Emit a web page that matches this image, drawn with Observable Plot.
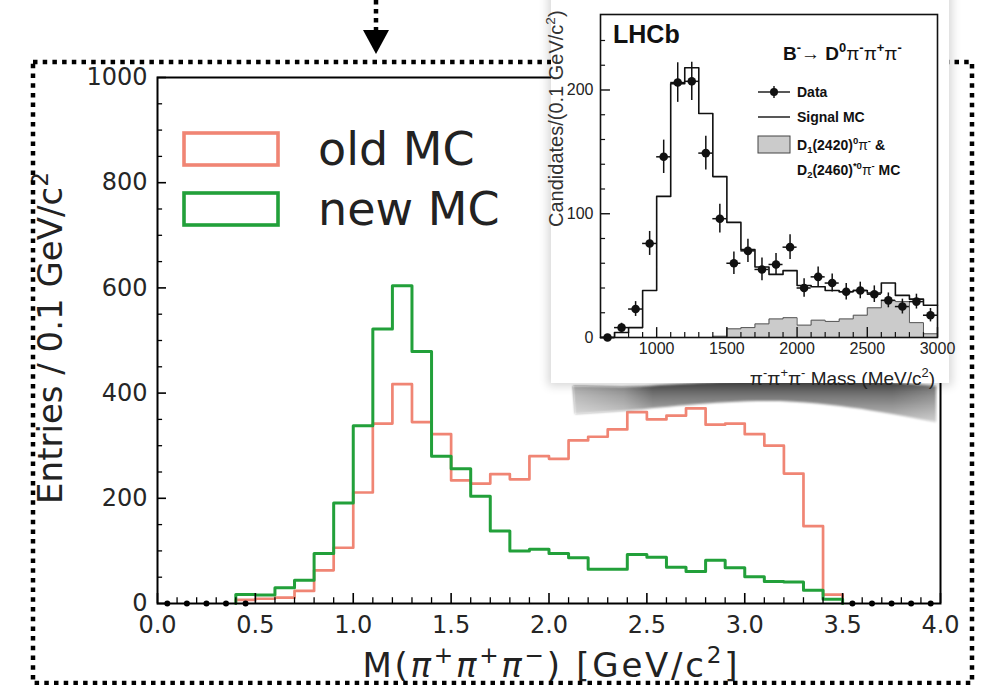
<!DOCTYPE html>
<html>
<head>
<meta charset="utf-8">
<script src="https://cdn.jsdelivr.net/npm/d3@7"></script>
<script src="https://cdn.jsdelivr.net/npm/@observablehq/plot@0.6"></script>
<style>
  html, body { margin: 0; padding: 0; background: #fff; }
  #stage { position: relative; width: 985px; height: 685px; overflow: hidden; background: #fff; }
  #stage > * { position: absolute; }
</style>
</head>
<body>
<div id="stage"></div>
<script>
// ---- Main histogram: M(pi+ pi+ pi-), 0.1 GeV bins from 0 to 4 GeV ----
const massBinLow = d3.range(40).map(i => i / 10);
const oldMC = [0, 0, 0, 0, 7, 9, 11, 24, 63, 106,
               211, 342, 417, 345, 322, 234, 228, 246, 236, 280,
               275, 310, 317, 331, 364, 350, 357, 371, 340, 342,
               322, 300, 247, 147, 17, 0, 0, 0, 0, 0];
const newMC = [0, 0, 0, 0, 17, 16, 30, 44, 95, 191,
               338, 522, 604, 479, 280, 256, 204, 138, 100, 103,
               95, 87, 65, 65, 93, 88, 69, 61, 82, 68,
               51, 42, 41, 25, 8, 0, 0, 0, 0, 0];
const emptyBinCenters = [0.05, 0.15, 0.25, 0.35, 0.45, 3.55, 3.65, 3.75, 3.85, 3.95];
const xTicksMain = [0, 0.5, 1, 1.5, 2, 2.5, 3, 3.5, 4];
const xMinorMain = d3.range(41).map(i => i / 10).filter(v => Math.round(v * 10) % 5 !== 0);
const yTicksMain = [0, 200, 400, 600, 800, 1000];
const yMinorMain = [50, 100, 150, 250, 300, 350, 450, 500, 550, 650, 700, 750, 850, 900, 950];
const legendLabels = ["old MC", "new MC"];

// ---- Inset: LHCb B- -> D0 pi- pi+ pi-, 100 MeV bins from 600 to 3000 MeV ----
const insetBinLow = d3.range(600, 3000, 100);
const signalMC = [0, 4, 8, 38, 114, 205, 218, 181, 130, 93, 71, 57,
                  51, 54, 42, 41, 38, 37, 38, 36, 44, 34, 31, 26];
const excitedDMC = [0, 0, 0, 0, 0, 0, 0, 0, 1, 7, 8, 11,
                    15, 16, 10, 14, 13, 15, 18, 24, 30, 29, 12, 3];
const dataMass = [650, 750, 850, 950, 1050, 1150, 1250, 1350, 1450, 1550, 1650, 1750,
                  1850, 1950, 2050, 2150, 2250, 2350, 2450, 2550, 2650, 2750, 2850, 2950];
const dataCounts = [0, 8, 23, 76, 146, 206, 207, 149, 96, 60, 70, 55,
                    59, 73, 40, 49, 44, 37, 38, 35, 30, 25, 29, 18];
const dataErrors = [0, 3.5, 6, 9.7, 13.5, 16, 15.5, 13.7, 11.6, 9, 9.4, 9.2,
                    8.8, 10, 7.4, 8, 7.3, 6.7, 6.7, 6.7, 6, 6, 6, 5.4];
const xTicksInset = [1000, 1500, 2000, 2500, 3000];
const xMinorInset = d3.range(700, 3000, 100).filter(v => v % 500 !== 0);
const yTicksInset = [0, 100, 200];
const yMinorInset = [20, 40, 60, 80, 120, 140, 160, 180, 220, 240];

const RED = "#f08574";
const GREEN = "#22a03a";
const stage = document.getElementById("stage");

// Outline of a step histogram (histtype "step"): rises from the baseline at the
// first filled bin and falls back to it after the last one.
function stepOutline(lows, values, width) {
  const filled = values.map((v, i) => (v > 0 ? i : -1)).filter(i => i >= 0);
  const a = filled[0], b = filled[filled.length - 1];
  const pts = [{x: lows[a], y: 0}];
  for (let i = a; i <= b; i++) pts.push({x: lows[i], y: values[i]});
  pts.push({x: lows[b] + width, y: values[b]});
  pts.push({x: lows[b] + width, y: 0});
  return pts;
}
function stepFull(lows, values, width) {
  const pts = lows.map((x, i) => ({x, y: values[i]}));
  pts.push({x: lows[lows.length - 1] + width, y: values[values.length - 1]});
  return pts;
}
// Text with super/subscript runs
function rich(sel, parts, fs) {
  let shift = 0;
  for (const p of parts) {
    const target = p.sup ? -0.42 * fs : p.sub ? 0.22 * fs : 0;
    const s = sel.append("tspan").attr("dy", target - shift).text(p.t);
    shift = target;
    if (p.sup || p.sub) s.attr("font-size", 0.68 * fs);
    if (p.italic) s.attr("font-style", "italic");
    if (p.weight) s.attr("font-weight", p.weight);
  }
  return sel;
}
function place(node, left, top) {
  node.style.left = left + "px";
  node.style.top = top + "px";
  stage.appendChild(node);
}

// ================= main chart =================
const main = Plot.plot({
  width: 985,
  height: 685,
  marginLeft: 157,
  marginRight: 45,
  marginTop: 77,
  marginBottom: 82,
  x: {domain: [0, 4]},
  y: {domain: [0, 1000]},
  style: {fontFamily: "DejaVu Sans", fontSize: "24px", background: "transparent", overflow: "visible", color: "#262626"},
  marks: [
    Plot.line(stepOutline(massBinLow, oldMC, 0.1), {x: "x", y: "y", curve: "step-after", stroke: RED, strokeWidth: 2.7}),
    Plot.line(stepOutline(massBinLow, newMC, 0.1), {x: "x", y: "y", curve: "step-after", stroke: GREEN, strokeWidth: 3}),
    Plot.dot(emptyBinCenters, {x: d => d, y: 0, r: 3, fill: "black"}),
    Plot.ruleX(xMinorMain, {x: d => d, y1: 0, y2: 11, stroke: "black", strokeWidth: 1.3}),
    Plot.ruleX(xTicksMain, {x: d => d, y1: 0, y2: 19, stroke: "black", strokeWidth: 1.6}),
    Plot.ruleY(yMinorMain, {y: d => d, x1: 0, x2: 0.026, stroke: "black", strokeWidth: 1.3}),
    Plot.ruleY(yTicksMain, {y: d => d, x1: 0, x2: 0.046, stroke: "black", strokeWidth: 1.6}),
    Plot.axisX(xTicksMain, {tickSize: 0, tickPadding: 12, tickFormat: d3.format(".1f"), label: null}),
    Plot.axisY(yTicksMain, {tickSize: 0, tickPadding: 10, tickFormat: d => String(d), label: null}),
    Plot.frame({stroke: "black", strokeWidth: 2})
  ]
});
place(main, 0, 0);

const ms = d3.select(main);
// axis titles
rich(ms.append("text")
  .attr("transform", "translate(62,338) rotate(-90)")
  .attr("text-anchor", "middle")
  .attr("font-size", 34)
  .attr("fill", "#222"),
  [{t: "Entries / 0.1 GeV/c"}, {t: "2", sup: true}], 34);
rich(ms.append("text")
  .attr("x", 550).attr("y", 677)
  .attr("text-anchor", "middle")
  .attr("font-size", 34)
  .attr("fill", "#222")
  .attr("textLength", 375)
  .attr("lengthAdjust", "spacing"),
  [{t: "M("}, {t: "π", italic: true}, {t: "+", sup: true}, {t: "π", italic: true}, {t: "+", sup: true},
   {t: "π", italic: true}, {t: "−", sup: true}, {t: ") [GeV/c"}, {t: "2", sup: true}, {t: "]"}], 34);

// legend
const legendColors = [RED, GREEN];
const legendRows = [132, 192];
const mlg = ms.append("g").attr("text-anchor", "start");
legendLabels.forEach((label, i) => {
  mlg.append("rect")
    .attr("x", 184).attr("y", legendRows[i] + 1)
    .attr("width", 94).attr("height", 32)
    .attr("fill", "none").attr("stroke", legendColors[i]).attr("stroke-width", 3.6);
  mlg.append("text")
    .attr("x", 318).attr("y", legendRows[i] + 33)
    .attr("font-size", 46).attr("fill", "#222")
    .text(label);
});

// dotted outline and arrow
const deco = d3.create("svg").attr("width", 985).attr("height", 685).style("overflow", "visible");
deco.append("rect")
  .attr("x", 33).attr("y", 62).attr("width", 939).attr("height", 621)
  .attr("fill", "none").attr("stroke", "black")
  .attr("stroke-width", 4.5).attr("stroke-dasharray", "4.5 5.2");
deco.append("line")
  .attr("x1", 376).attr("x2", 376).attr("y1", 0).attr("y2", 30)
  .attr("stroke", "black").attr("stroke-width", 4.5).attr("stroke-dasharray", "4.5 4.5");
deco.append("path").attr("d", "M363,30 L389,30 L376,54 Z").attr("fill", "black");

// smeared grey strip under the inset
const defs = deco.append("defs");
const g1 = defs.append("linearGradient").attr("id", "strip").attr("x1", 0).attr("x2", 0).attr("y1", 0).attr("y2", 1);
g1.append("stop").attr("offset", "0%").attr("stop-color", "#3a3a3a");
g1.append("stop").attr("offset", "30%").attr("stop-color", "#6a6a6a");
g1.append("stop").attr("offset", "100%").attr("stop-color", "#c4c4c4");
const g2 = defs.append("linearGradient").attr("id", "stripFade").attr("x1", 0).attr("x2", 1).attr("y1", 0).attr("y2", 0);
g2.append("stop").attr("offset", "0%").attr("stop-color", "#fff").attr("stop-opacity", 0.5);
g2.append("stop").attr("offset", "14%").attr("stop-color", "#fff").attr("stop-opacity", 0.3);
g2.append("stop").attr("offset", "22%").attr("stop-color", "#fff").attr("stop-opacity", 0);
g2.append("stop").attr("offset", "88%").attr("stop-color", "#fff").attr("stop-opacity", 0);
g2.append("stop").attr("offset", "100%").attr("stop-color", "#fff").attr("stop-opacity", 0.2);
defs.append("filter").attr("id", "soft").append("feGaussianBlur").attr("stdDeviation", 1.3);
const stripPath = "M573,386 C600,386 630,388 660,385 L760,380 C810,376 870,380 936,386 L936,422 C900,416 850,404 780,401 C720,400 660,408 620,411 L575,414 Z";
deco.append("path").attr("d", stripPath).attr("fill", "url(#strip)").attr("filter", "url(#soft)");
deco.append("path").attr("d", stripPath).attr("fill", "url(#stripFade)");
place(deco.node(), 0, 0);

// ================= inset =================
const card = document.createElement("div");
card.style.width = "398px";
card.style.height = "403px";
card.style.background = "#fff";
card.style.boxShadow = "0 0 9px 3px rgba(0,0,0,0.16)";
place(card, 551, -20);

const IX = 530, IY = 0;
const dataPoints = dataMass.map((m, i) => ({m, n: dataCounts[i], e: dataErrors[i]}));
const inset = Plot.plot({
  width: 430,
  height: 400,
  marginLeft: 70,
  marginRight: 23,
  marginTop: 14,
  marginBottom: 63,
  x: {domain: [600, 3000]},
  y: {domain: [0, 261]},
  style: {fontFamily: "Liberation Sans, Arial, sans-serif", fontSize: "16px", background: "transparent", overflow: "visible", color: "#222"},
  marks: [
    Plot.areaY(stepFull(insetBinLow, excitedDMC, 100), {x: "x", y: "y", curve: "step-after", fill: "#cbcbcb"}),
    Plot.line(stepFull(insetBinLow, excitedDMC, 100), {x: "x", y: "y", curve: "step-after", stroke: "#555", strokeWidth: 1}),
    Plot.line(stepFull(insetBinLow, signalMC, 100), {x: "x", y: "y", curve: "step-after", stroke: "#111", strokeWidth: 1.6}),
    Plot.ruleX(dataPoints, {x: "m", y1: d => d.n - d.e, y2: d => d.n + d.e, stroke: "#111", strokeWidth: 1.5}),
    Plot.ruleY(dataPoints, {y: "n", x1: d => d.m - 50, x2: d => d.m + 50, stroke: "#111", strokeWidth: 1.5}),
    Plot.dot(dataPoints, {x: "m", y: "n", r: 4.3, fill: "#111"}),
    Plot.ruleX(xMinorInset, {x: d => d, y1: 0, y2: 4, stroke: "#111", strokeWidth: 1.2}),
    Plot.ruleX(xTicksInset, {x: d => d, y1: 0, y2: 8, stroke: "#111", strokeWidth: 1.4}),
    Plot.ruleY(yMinorInset, {y: d => d, x1: 600, x2: 636, stroke: "#111", strokeWidth: 1.2}),
    Plot.ruleY(yTicksInset, {y: d => d, x1: 600, x2: 671, stroke: "#111", strokeWidth: 1.4}),
    Plot.axisX(xTicksInset, {tickSize: 0, tickPadding: 5, tickFormat: d => String(d), label: null}),
    Plot.axisY(yTicksInset, {tickSize: 0, tickPadding: 7, tickFormat: d => String(d), label: null}),
    Plot.frame({stroke: "#111", strokeWidth: 1.6})
  ]
});
place(inset, IX, IY);

const is = d3.select(inset);
const F = "Liberation Sans, Arial, sans-serif";
const ig = is.append("g").attr("transform", `translate(${-IX},${-IY})`)
  .attr("text-anchor", "start").attr("font-family", F);
ig.append("text")
  .attr("x", 613).attr("y", 43)
  .attr("font-weight", "bold").attr("font-size", 25).attr("fill", "#111")
  .text("LHCb");
rich(ig.append("text")
  .attr("x", 783).attr("y", 60)
  .attr("font-weight", "bold").attr("font-size", 19).attr("fill", "#111"),
  [{t: "B"}, {t: "-", sup: true}, {t: "→ ", weight: "normal"}, {t: "D"}, {t: "0", sup: true},
   {t: "π", weight: "normal"}, {t: "-", sup: true}, {t: "π", weight: "normal"}, {t: "+", sup: true},
   {t: "π", weight: "normal"}, {t: "-", sup: true}], 19);
rich(ig.append("text")
  .attr("transform", "translate(563,227) rotate(-90)")
  .attr("font-size", 20).attr("fill", "#333"),
  [{t: "Candidates/(0.1 GeV/c"}, {t: "2", sup: true}, {t: ")"}], 20);
rich(ig.append("text")
  .attr("x", 935).attr("y", 385)
  .attr("text-anchor", "end")
  .attr("font-size", 19).attr("fill", "#222"),
  [{t: "π"}, {t: "-", sup: true}, {t: "π"}, {t: "+", sup: true}, {t: "π"}, {t: "-", sup: true},
   {t: " Mass (MeV/c"}, {t: "2", sup: true}, {t: ")"}], 19);

// inset legend
const lg = ig.append("g").attr("font-weight", "bold").attr("font-size", 14).attr("fill", "#111");
lg.append("line").attr("x1", 758).attr("x2", 790).attr("y1", 92).attr("y2", 92).attr("stroke", "#111").attr("stroke-width", 1.4);
lg.append("line").attr("x1", 774).attr("x2", 774).attr("y1", 86).attr("y2", 98).attr("stroke", "#111").attr("stroke-width", 1.4);
lg.append("circle").attr("cx", 774).attr("cy", 92).attr("r", 4);
lg.append("text").attr("x", 797).attr("y", 97).text("Data");
lg.append("line").attr("x1", 758).attr("x2", 790).attr("y1", 117).attr("y2", 117).attr("stroke", "#111").attr("stroke-width", 1.4);
lg.append("text").attr("x", 797).attr("y", 122).text("Signal MC");
lg.append("rect").attr("x", 758).attr("y", 136).attr("width", 32).attr("height", 17)
  .attr("fill", "#cbcbcb").attr("stroke", "#444").attr("stroke-width", 1);
rich(lg.append("text").attr("x", 797).attr("y", 150),
  [{t: "D"}, {t: "1", sub: true}, {t: "(2420)"}, {t: "0", sup: true}, {t: "π", weight: "normal"}, {t: "-", sup: true}, {t: " &"}], 14);
rich(lg.append("text").attr("x", 797).attr("y", 175),
  [{t: "D"}, {t: "2", sub: true}, {t: "(2460)"}, {t: "*0", sup: true}, {t: "π", weight: "normal"}, {t: "-", sup: true}, {t: " MC"}], 14);
</script>
</body>
</html>
